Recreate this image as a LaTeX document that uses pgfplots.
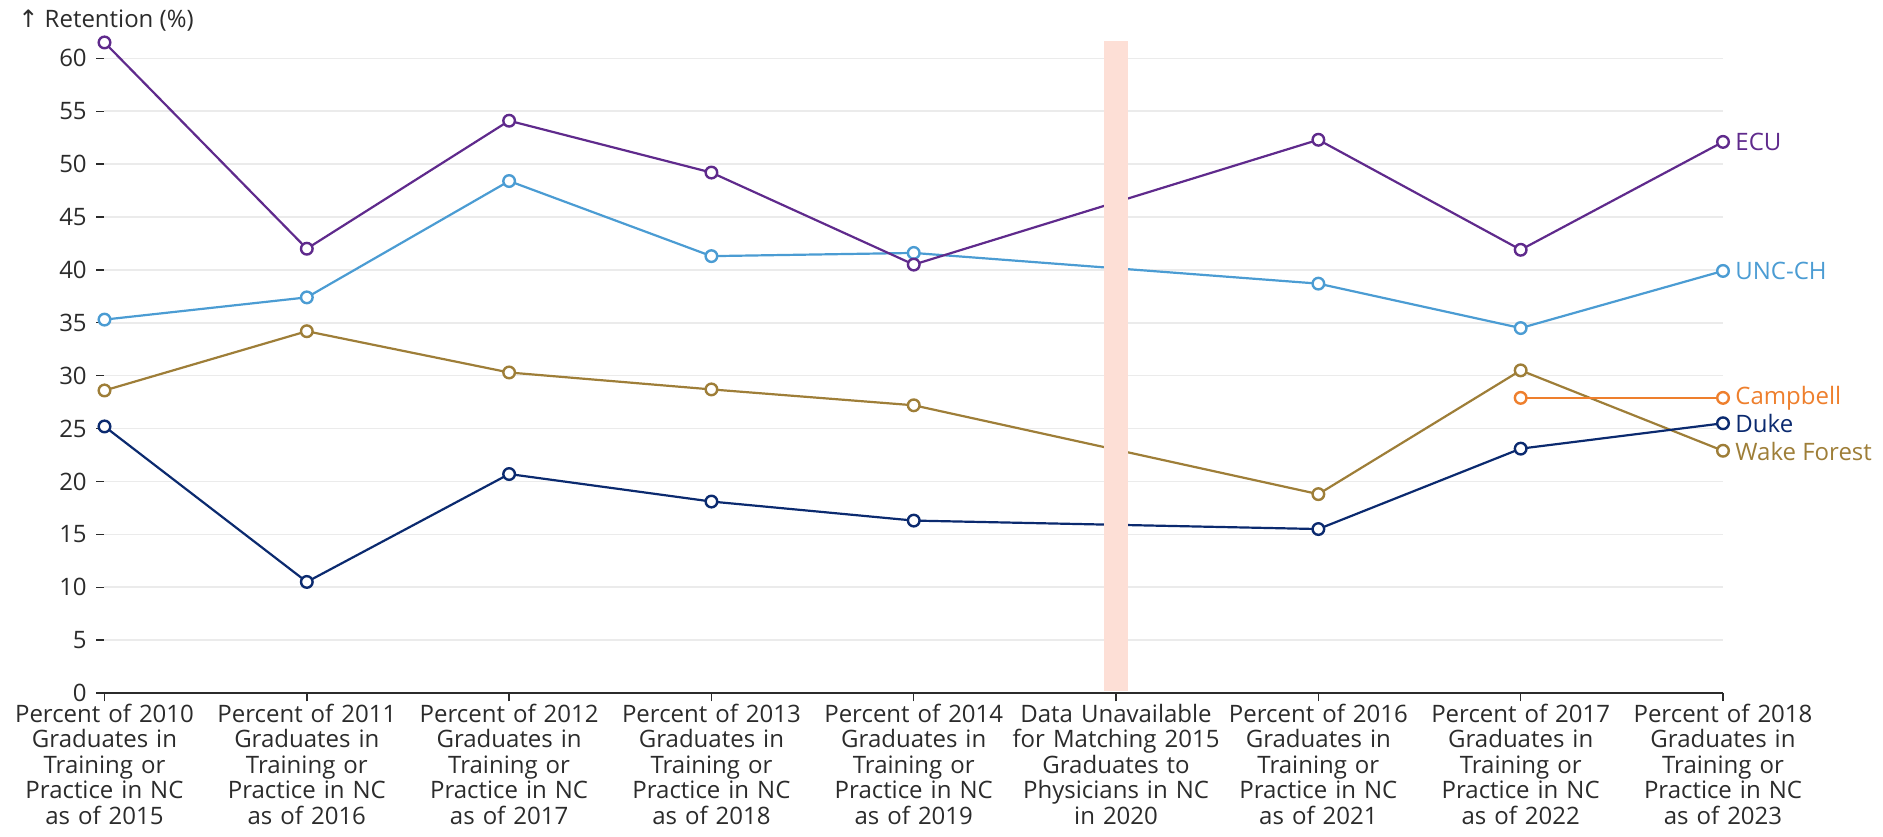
\documentclass[border=0pt]{standalone}
\usepackage{pgfplots}
\pgfplotsset{compat=1.18}
\usepackage{fontspec}
\setmainfont{Open Sans}
\newfontfamily\symfont{DejaVu Sans}
\definecolor{ecu}{HTML}{5F2A8C}
\definecolor{unc}{HTML}{4B9CD3}
\definecolor{wf}{HTML}{9E7E38}
\definecolor{duke}{HTML}{0B2A6F}
\definecolor{camp}{HTML}{EE7F2D}
\definecolor{barpink}{HTML}{FDDFD6}
\definecolor{gridgray}{HTML}{EBEBEB}
\definecolor{textgray}{HTML}{2B2B2B}
\begin{document}
\begin{tikzpicture}
\path[use as bounding box] (-52.25pt,-71.5pt) rectangle (889.25pt,346.5pt);
\begin{axis}[
  at={(0pt,0pt)}, anchor=south west,
  scale only axis, width=809.25pt, height=325.8pt,
  xmin=0, xmax=8, ymin=0, ymax=61.6,
  axis lines*=left,
  y axis line style={draw=none},
  x axis line style={draw=textgray, line width=0.8pt},
  ytick={0,5,...,60},
  xtick={0,...,8},
  xticklabels={
    {Percent of 2010\\Graduates in\\Training or\\Practice in NC\\as of 2015},
    {Percent of 2011\\Graduates in\\Training or\\Practice in NC\\as of 2016},
    {Percent of 2012\\Graduates in\\Training or\\Practice in NC\\as of 2017},
    {Percent of 2013\\Graduates in\\Training or\\Practice in NC\\as of 2018},
    {Percent of 2014\\Graduates in\\Training or\\Practice in NC\\as of 2019},
    {Data Unavailable\\for Matching 2015\\Graduates to\\Physicians in NC\\in 2020},
    {Percent of 2016\\Graduates in\\Training or\\Practice in NC\\as of 2021},
    {Percent of 2017\\Graduates in\\Training or\\Practice in NC\\as of 2022},
    {Percent of 2018\\Graduates in\\Training or\\Practice in NC\\as of 2023}},
  tick align=outside,
  major tick length=4.2pt,
  tick style={draw=textgray, line width=0.7pt},
  ymajorgrids, grid style={draw=gridgray, line width=0.8pt},
  tick label style={font=\fontsize{12}{12.75}\selectfont, text=textgray},
  /pgf/number format/assume math mode=true,
  yticklabel style={anchor=east, inner sep=0pt, xshift=-4.5pt},
  xticklabel style={anchor=north, align=center, text width=110pt, inner sep=0pt, yshift=-1pt},
  clip=false,
  every axis plot/.append style={line width=1.1pt, mark=*, mark size=2.9pt, mark options={fill=white, line width=1.2pt, solid}},
]
\addplot[unc] coordinates {(0,35.3)(1,37.4)(2,48.4)(3,41.3)(4,41.6)(6,38.7)(7,34.5)(8,39.9)};
\addplot[ecu] coordinates {(0,61.5)(1,42.0)(2,54.1)(3,49.2)(4,40.5)(6,52.3)(7,41.9)(8,52.1)};
\addplot[wf] coordinates {(0,28.6)(1,34.2)(2,30.3)(3,28.7)(4,27.2)(6,18.8)(7,30.5)(8,22.9)};
\addplot[duke] coordinates {(0,25.2)(1,10.5)(2,20.7)(3,18.1)(4,16.3)(6,15.5)(7,23.1)(8,25.5)};
\addplot[camp] coordinates {(7,27.9)(8,27.9)};
\addplot[draw=none, fill=barpink, mark=none] coordinates {(4.94,0.15)(5.06,0.15)(5.06,61.6)(4.94,61.6)} -- cycle;
\node[anchor=west, xshift=6pt, inner sep=0pt, text=ecu, font=\fontsize{12}{12.75}\selectfont] at (axis cs:8,52.1) {ECU};
\node[anchor=west, xshift=6pt, inner sep=0pt, text=unc, font=\fontsize{12}{12.75}\selectfont] at (axis cs:8,39.9) {UNC-CH};
\node[anchor=west, xshift=6pt, inner sep=0pt, text=camp, font=\fontsize{12}{12.75}\selectfont] at (axis cs:8,27.9) {Campbell};
\node[anchor=west, xshift=6pt, inner sep=0pt, text=duke, font=\fontsize{12}{12.75}\selectfont] at (axis cs:8,25.5) {Duke};
\node[anchor=west, xshift=6pt, inner sep=0pt, text=wf, font=\fontsize{12}{12.75}\selectfont] at (axis cs:8,22.8) {Wake Forest};
\end{axis}
\node[anchor=base west, inner sep=0pt, text=textgray, font=\fontsize{12}{12.75}\selectfont] at (-43.25pt,332.5pt) {{\symfont ↑} Retention (\%)};
\end{tikzpicture}
\end{document}
